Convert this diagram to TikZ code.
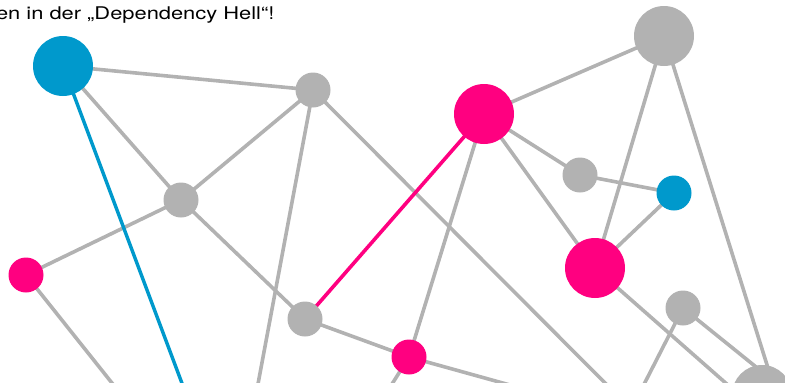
\documentclass[tikz,border=0pt]{standalone}
\usepackage{fontspec}
\newfontfamily\titlefont{TeX Gyre Heros}[FakeStretch=1.25]
\definecolor{dgray}{HTML}{B2B2B2}
\definecolor{dblue}{HTML}{0099CC}
\definecolor{dpink}{HTML}{FF0080}
\pgfdeclarelayer{bg}
\pgfsetlayers{bg,main}
\tikzset{
  dot/.style={circle,inner sep=0pt,draw=none,minimum size=#1},
  big/.style={dot=60pt},
  small/.style={dot=35pt},
  link/.style={line width=3.6pt,draw=dgray},
  bluelink/.style={line width=3.4pt,draw=dblue},
  pinklink/.style={line width=3.6pt,draw=dpink},
}
\begin{document}
\begin{tikzpicture}[x=1pt,y=-1pt]
\useasboundingbox (0,0) rectangle (785,383);
\clip (0,0) rectangle (785,383);
% nodes
\node[big,fill=dblue] (blueBig) at (63,66) {};
\node[small,fill=dgray] (gA) at (313,90) {};
\node[small,fill=dgray] (gB) at (181,200) {};
\node[small,fill=dpink] (pS) at (26,275) {};
\node[small,fill=dgray] (gC) at (305,319) {};
\node[small,fill=dpink] (pS2) at (409,357) {};
\node[big,fill=dpink] (pBig) at (484,114) {};
\node[small,fill=dgray] (gS) at (580,175) {};
\node[small,fill=dblue] (bS) at (674,193) {};
\node[big,fill=dpink] (pBig2) at (595,268) {};
\node[big,fill=dgray] (gTop) at (664,36) {};
\node[small,fill=dgray] (gD) at (683,308) {};
\node[big,fill=dgray] (gBR) at (762,395) {};
% off-canvas ends
\coordinate (eBlue) at (189,402);
\coordinate (eA1) at (255,400);
\coordinate (eA2) at (622,400);
\coordinate (ePS) at (125.5,400);
\coordinate (ePS2a) at (382,400);
\coordinate (ePS2b) at (564,400);
\coordinate (eD1) at (636,400);
\coordinate (eD2) at (797,400);
\coordinate (eP2) at (745,400);
\coordinate (eTop) at (778,400);
% title
\node[anchor=base west,inner sep=0pt,font=\titlefont\fontsize{17.5}{20}\selectfont] (title) at (-4.2,19.4) {en in der „Dependency Hell“!};
\begin{pgfonlayer}{bg}
\draw[link] (blueBig.center) -- (gA.center);
\draw[link] (blueBig.center) -- (gB.center);
\draw[link] (gA.center) -- (gB.center);
\draw[link] (gB.center) -- (pS.center);
\draw[link] (gB.center) -- (gC.center);
\draw[link] (gC.center) -- (pS2.center);
\draw[link] (pS2.center) -- (pBig.center);
\draw[link] (pBig.center) -- (gTop.center);
\draw[link] (pBig.center) -- (gS.center);
\draw[link] (pBig.center) -- (pBig2.center);
\draw[link] (gS.center) -- (bS.center);
\draw[link] (bS.center) -- (pBig2.center);
\draw[link] (pBig2.center) -- (gTop.center);
\draw[link] (gA.center) -- (eA1);
\draw[link] (gA.center) -- (eA2);
\draw[link] (pS.center) -- (ePS);
\draw[link] (pS2.center) -- (ePS2a);
\draw[link] (pS2.center) -- (ePS2b);
\draw[link] (gD.center) -- (eD1);
\draw[link] (gD.center) -- (eD2);
\draw[link] (pBig2.center) -- (eP2);
\draw[link] (gTop.center) -- (eTop);
\draw[bluelink] (blueBig.center) -- (eBlue);
\draw[pinklink] (gC.center) -- (pBig.center);
\end{pgfonlayer}
\end{tikzpicture}
\end{document}
